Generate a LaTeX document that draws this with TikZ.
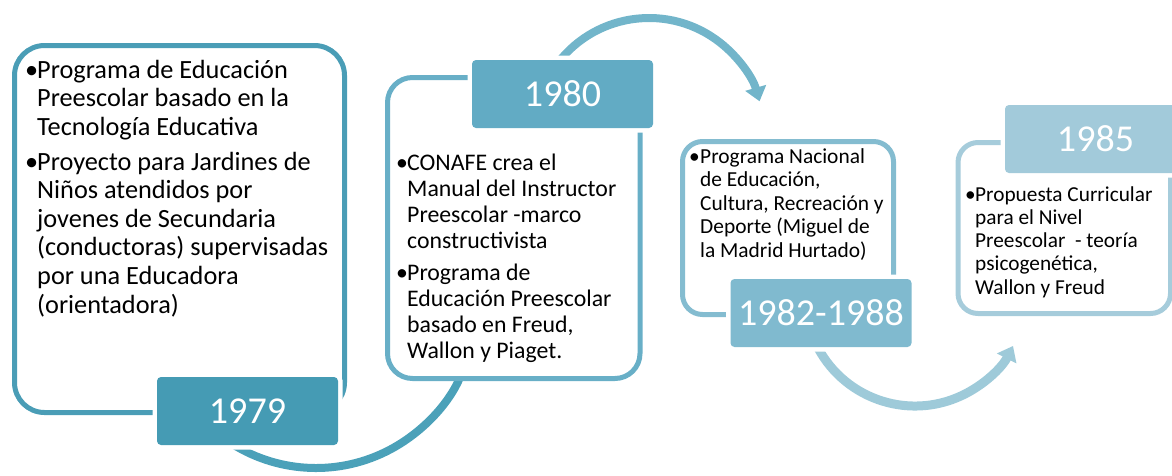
\documentclass[tikz,border=0pt]{standalone}
\usepackage{fontspec}
\setmainfont{Carlito}
\usetikzlibrary{arrows.meta}
\definecolor{f1}{HTML}{4A9DB6}
\definecolor{y1}{HTML}{459BB4}
\definecolor{f2}{HTML}{68AFC7}
\definecolor{y2}{HTML}{62ABC4}
\definecolor{f3}{HTML}{84BCD0}
\definecolor{y3}{HTML}{80BACF}
\definecolor{f4}{HTML}{A6CCDB}
\definecolor{y4}{HTML}{A2CADA}
\definecolor{a1c}{HTML}{4BA1B9}
\definecolor{a2c}{HTML}{72B5CA}
\definecolor{a3c}{HTML}{9ECAD9}
\newcommand\mybul[1]{\makebox[#1][l]{\textbullet}}
\begin{document}
\begin{tikzpicture}[x=1pt,y=-1pt,
  frame/.style={draw=#1, line width=5pt, fill=white, inner sep=0pt, anchor=north west},
  yearbox/.style={fill=#1, rounded corners=4pt, preaction={draw=white, line width=9pt},
    text=white, font=\fontsize{38}{45}\selectfont, inner sep=0pt,
    minimum width=181pt, minimum height=68pt},
  arr/.style={draw=#1, line width=8pt, -{Triangle[width=21pt,length=14pt]}},
  txt/.style={anchor=base west, inner sep=0pt, align=left}
]
\useasboundingbox (0,0) rectangle (1172,475);
\clip (0,0) rectangle (1172,475);

% arrow start points
\coordinate (a1s) at (232.3,444.0);
\coordinate (a2s) at (558.4,62.2);
\coordinate (a3s) at (815.3,342.5);

% connectors
\draw[arr=a1c] (a1s) arc[start angle=122, end angle=18, radius=158];
\draw[arr=a2c] (a2s) arc[start angle=-142, end angle=-16, radius=115];
\draw[arr=a3c, line width=9pt] (a3s) arc[start angle=155, end angle=27, radius=110];

% frames
\node[frame=f1, rounded corners=30pt, minimum width=330pt, minimum height=367pt] (b1) at (12,43) {};
\node[frame=f2, rounded corners=25pt, minimum width=252.5pt, minimum height=301pt] (b2) at (385,75) {};
\node[frame=f3, rounded corners=20pt, minimum width=211pt, minimum height=173pt] (b3) at (680,139) {};
\node[frame=f4, rounded corners=20pt, minimum width=212.5pt, minimum height=171pt] (b4) at (955.5,140) {};

% texts
\node[txt, font=\fontsize{26.3}{28.6}\selectfont] (t1a) at (25,78) {\begin{tabular}[t]{@{}l@{}l@{}}
\mybul{12pt} & Programa de Educación\\
 & Preescolar basado en la\\
 & Tecnología Educativa
\end{tabular}};
\node[txt, font=\fontsize{26.3}{28.6}\selectfont] (t1b) at (25,170) {\begin{tabular}[t]{@{}l@{}l@{}}
\mybul{12pt} & Proyecto para Jardines de\\
 & Niños atendidos por\\
 & jovenes de Secundaria\\
 & (conductoras) supervisadas\\
 & por una Educadora\\
 & (orientadora)
\end{tabular}};

\node[txt, font=\fontsize{23.8}{26}\selectfont] (t2a) at (396,170) {\begin{tabular}[t]{@{}l@{}l@{}}
\mybul{11pt} & CONAFE crea el\\
 & Manual del Instructor\\
 & Preescolar -marco\\
 & constructivista
\end{tabular}};
\node[txt, font=\fontsize{23.8}{26}\selectfont] (t2b) at (396,280) {\begin{tabular}[t]{@{}l@{}l@{}}
\mybul{11pt} & Programa de\\
 & Educación Preescolar\\
 & basado en Freud,\\
 & Wallon y Piaget.
\end{tabular}};

\node[txt, font=\fontsize{21.4}{23.5}\selectfont] (t3) at (689,163) {\begin{tabular}[t]{@{}l@{}l@{}}
\mybul{11pt} & Programa Nacional\\
 & de Educación,\\
 & Cultura, Recreación y\\
 & Deporte (Miguel de\\
 & la Madrid Hurtado)
\end{tabular}};

\node[txt, font=\fontsize{21.3}{23.3}\selectfont] (t4) at (965,201) {\begin{tabular}[t]{@{}l@{}l@{}}
\mybul{10pt} & Propuesta Curricular\\
 & para el Nivel\\
 & Preescolar\ \ - teoría\\
 & psicogenética,\\
 & Wallon y Freud
\end{tabular}};

% year boxes
\node[yearbox=y1] (y1979) at (247.5,411) {1979};
\node[yearbox=y2] (y1980) at (562.5,94) {1980};
\node[yearbox=y3] (y1982) at (821,313) {1982-1988};
\node[yearbox=y4] (y1985) at (1095.5,139) {1985};
\end{tikzpicture}
\end{document}
